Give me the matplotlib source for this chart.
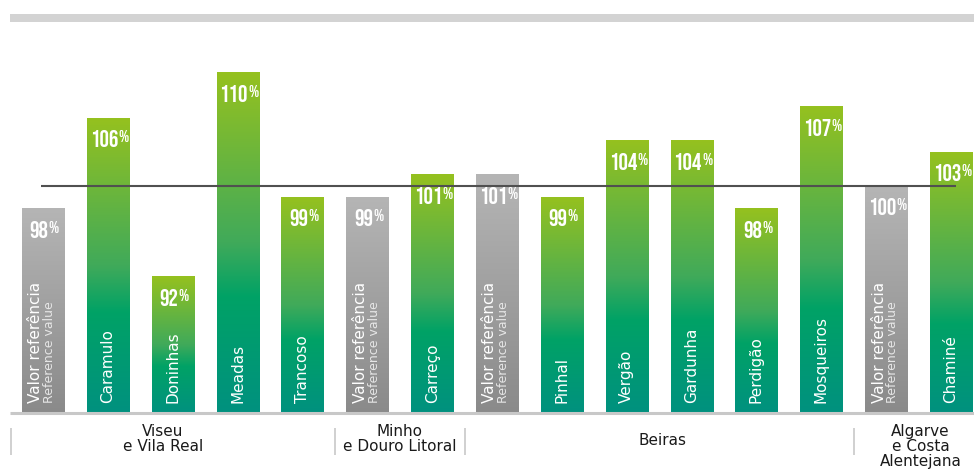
import matplotlib.pyplot as plt
import matplotlib.transforms as mtransforms
from matplotlib.colors import LinearSegmentedColormap
from matplotlib.patches import Rectangle
import numpy as np

# data
sites = ['Valor referência', 'Caramulo', 'Doninhas', 'Meadas', 'Trancoso',
         'Valor referência', 'Carreço',
         'Valor referência', 'Pinhal', 'Vergão', 'Gardunha', 'Perdigão', 'Mosqueiros',
         'Valor referência', 'Chaminé']
values = [98, 106, 92, 110, 99, 99, 101, 101, 99, 104, 104, 98, 107, 100, 103]
is_ref = [True, False, False, False, False,
          True, False,
          True, False, False, False, False, False,
          True, False]
ref_sub = 'Reference value'
groups = ['Viseu\ne Vila Real', 'Minho\ne Douro Litoral', 'Beiras',
          'Algarve\ne Costa\nAlentejana']
group_sizes = [5, 2, 6, 2]
group_shift = [-0.15, 0.0, 0.05, 0.03]   # small nudges of group captions
reference = 100
base = 80

green = LinearSegmentedColormap.from_list(
    'grn', [(0, '#95c11f'), (0.5, '#40aa5a'), (0.66, '#00a266'), (1, '#00917f')])
grey = LinearSegmentedColormap.from_list('gry', ['#b5b5b5', '#8a8a8a'])

W, H = 974, 471
fig = plt.figure(figsize=(W / 100, H / 100), dpi=100)
ax = fig.add_axes([0, 0, 1, 1])
ax.set_axis_off()

px_per_unit = 11.33
step = 64.86
ymin = base - (H - 413) / px_per_unit
ymax = reference + 186 / px_per_unit
xmin = -43 / step
xmax = (W - 43) / step

num_font = ['Bebas Neue', 'Oswald', 'DejaVu Sans']
lab_font = ['DejaVu Sans']

grad = np.linspace(0, 1, 256).reshape(-1, 1)
bw = 0.648
shift_left = mtransforms.offset_copy(ax.transData, fig=fig, x=-4, y=0, units='dots')

for i, (name, v, ref) in enumerate(zip(sites, values, is_ref)):
    cmap = grey if ref else green
    ax.imshow(grad, cmap=cmap, aspect='auto', origin='upper',
              extent=[i - bw / 2, i + bw / 2, base, v], zorder=1)
    # value label
    t = ax.text(i, v - 1.8, str(v), transform=shift_left, ha='center', va='center',
                color='white', fontsize=17, family=num_font, zorder=4)
    ax.annotate('%', xy=(1, 0), xycoords=t, xytext=(0.3, 3.6), textcoords='offset points',
                ha='left', va='baseline', color='white', fontsize=12.5,
                family=num_font, zorder=4)
    # rotated name
    if ref:
        ax.text(i - 0.11, base + 0.85, name, rotation=90, ha='center', va='bottom',
                color='white', fontsize=11, family=lab_font, zorder=4)
        ax.text(i + 0.105, base + 0.85, ref_sub, rotation=90, ha='center', va='bottom',
                color='#e6e6e6', fontsize=9, family=lab_font, zorder=4)
    else:
        ax.text(i, base + 0.85, name, rotation=90, ha='center', va='bottom',
                color='white', fontsize=11, family=lab_font, zorder=4)

# reference line at 100 %
ax.hlines(reference, -0.03, len(values) - 1 + 0.08, color='#505050', lw=1.5, zorder=3)
# baseline
ax.hlines(base, -0.51, xmax, color='#c8c8c8', lw=2.2, zorder=2)

# group separators and captions
start = 0
for g, n, dx in zip(groups, group_sizes, group_shift):
    ax.vlines(start - 0.5, base - 15 / px_per_unit, base - 42 / px_per_unit,
              color='#c8c8c8', lw=1.2)
    mid = start + (n - 1) / 2 + dx
    if '\n' in g:
        ax.text(mid, base - 11 / px_per_unit, g, ha='center', va='top', fontsize=11,
                linespacing=1.0, color='#1a1a1a', family=lab_font)
    else:
        ax.text(mid, base - 28 / px_per_unit, g, ha='center', va='center', fontsize=11,
                color='#1a1a1a', family=lab_font)
    start += n

ax.set_xlim(xmin, xmax)
ax.set_ylim(ymin, ymax)

# grey band on top
fig.patches.append(Rectangle((10 / W, 1 - 22 / H), (W - 10) / W, 8 / H,
                             transform=fig.transFigure, color='#d3d3d3', lw=0))

fig.savefig('out.png', dpi=100)
